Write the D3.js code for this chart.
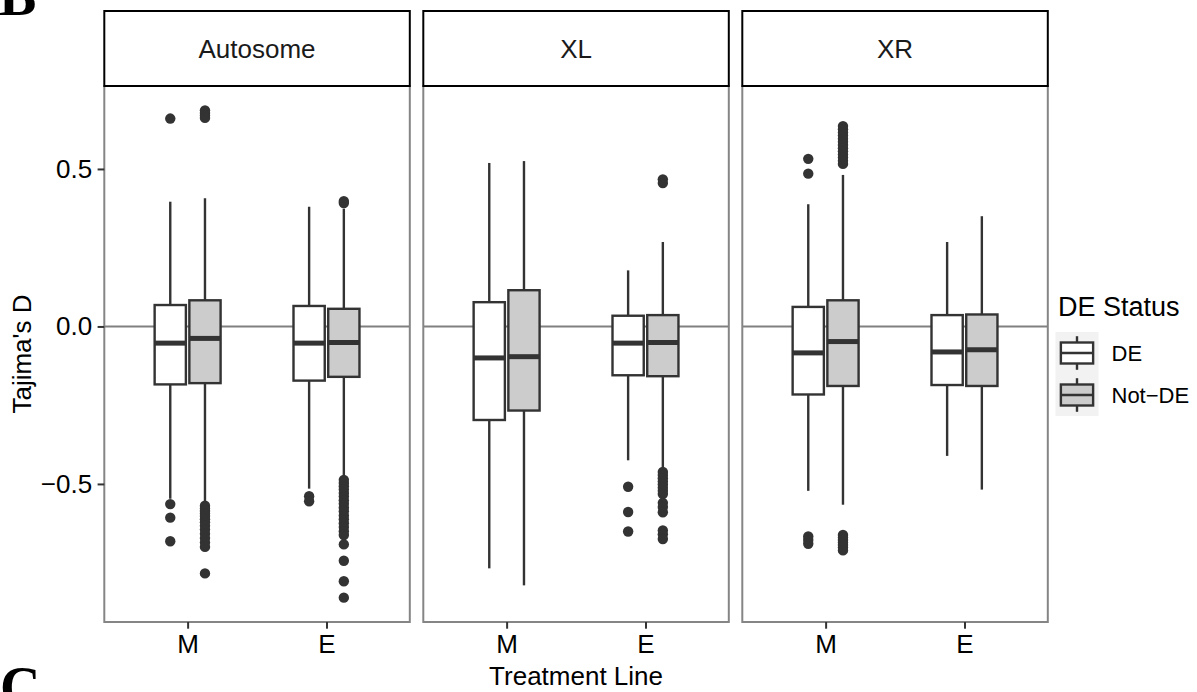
<!DOCTYPE html>
<html><head><meta charset="utf-8">
<script src="https://cdn.jsdelivr.net/npm/d3@7"></script>
<style>
body{margin:0;background:#fff}
svg{display:block}
text{font-family:"Liberation Sans",Arial,Helvetica,sans-serif}
text.fig-letter{font-family:"Liberation Serif","Times New Roman",serif;font-weight:bold}
</style>
</head><body>
<svg id="chart" width="1197" height="692"></svg>
<script>
// ---------- data ----------
const facets = ["Autosome", "XL", "XR"];
const treatmentLines = ["M", "E"];
const statuses = ["DE", "Not-DE"];
const statusLabels = ["DE", "Not\u2212DE"];
const statusFills = ["#FFFFFF", "#CCCCCC"];
const yTickValues = [-0.5, 0.0, 0.5];
const yTickLabels = ["\u22120.5", "0.0", "0.5"];

// order: for each facet, for each treatment line (M, E), for each status (DE, Not-DE)
const whiskerLow  = [-0.547, -0.558, -0.515, -0.477,  -0.768, -0.822, -0.425, -0.449,  -0.522, -0.566, -0.411, -0.518];
const q1          = [-0.184, -0.180, -0.172, -0.160,  -0.297, -0.267, -0.155, -0.158,  -0.216, -0.189, -0.186, -0.189];
const medians     = [-0.053, -0.038, -0.053, -0.051,  -0.100, -0.096, -0.053, -0.051,  -0.084, -0.048, -0.081, -0.074];
const q3          = [ 0.068,  0.083,  0.065,  0.056,   0.077,  0.115,  0.034,  0.036,   0.062,  0.083,  0.036,  0.038];
const whiskerHigh = [ 0.396,  0.407,  0.380,  0.374,   0.519,  0.525,  0.178,  0.268,   0.388,  0.481,  0.268,  0.350];
const outliers = [
  [0.660, -0.564, -0.607, -0.682],
  [0.686, 0.678, 0.670, 0.662, -0.569, -0.578, -0.586, -0.594, -0.602, -0.612, -0.622, -0.633, -0.645, -0.658, -0.672, -0.686, -0.700, -0.784],
  [-0.539, -0.555],
  [0.398, 0.392, -0.487, -0.497, -0.507, -0.518, -0.529, -0.540, -0.552, -0.563, -0.575, -0.587, -0.600, -0.612, -0.625, -0.637, -0.650, -0.662, -0.692, -0.744, -0.809, -0.861],
  [],
  [],
  [-0.509, -0.589, -0.651],
  [0.467, 0.455, -0.462, -0.472, -0.482, -0.492, -0.502, -0.512, -0.522, -0.532, -0.560, -0.573, -0.590, -0.648, -0.660, -0.675],
  [0.532, 0.485, -0.667, -0.678, -0.690],
  [0.636, 0.626, 0.616, 0.606, 0.596, 0.586, 0.576, 0.566, 0.556, 0.546, 0.536, 0.526, 0.516, -0.662, -0.670, -0.678, -0.686, -0.694, -0.702, -0.711],
  [],
  []
];

// ---------- build records ----------
const boxes = [];
facets.forEach((f, fi) => treatmentLines.forEach((l, li) => statuses.forEach((s, si) => {
  const i = fi * 4 + li * 2 + si;
  boxes.push({facet: f, line: l, status: s, si, lo: whiskerLow[i], q1: q1[i], med: medians[i],
              q3: q3[i], hi: whiskerHigh[i], out: outliers[i]});
})));

// ---------- layout ----------
const svg = d3.select("#chart");
const panelTop = 86, panelBottom = 622, stripTop = 11;
const panelLeft = 104.3, panelW = 305.5, panelGap = 13.5;
const ink = "#333333";

const allVals = boxes.flatMap(b => [b.lo, b.hi, ...b.out]);
const [vmin, vmax] = d3.extent(allVals);
const pad = (vmax - vmin) * 0.05;
const y = d3.scaleLinear().domain([vmin - pad, vmax + pad]).range([panelBottom, panelTop]);

const x = d3.scalePoint().domain(treatmentLines).range([0, panelW]).padding(0.6);
const step = x.step();
const dodge = d3.scaleBand().domain(statuses).range([-0.25 * step, 0.25 * step]);
const boxW = dodge.bandwidth() * 0.9;

svg.append("rect").attr("width", 1197).attr("height", 692).attr("fill", "#fff");

facets.forEach((f, fi) => {
  const g = svg.append("g").attr("transform", `translate(${panelLeft + fi * (panelW + panelGap)},0)`);
  g.append("rect").attr("x", 0).attr("y", panelTop).attr("width", panelW).attr("height", panelBottom - panelTop)
    .attr("fill", "#fff");
  // zero reference line
  g.append("line").attr("x1", 0).attr("x2", panelW).attr("y1", y(0)).attr("y2", y(0))
    .attr("stroke", "#808080").attr("stroke-width", 1.9);

  const fb = boxes.filter(b => b.facet === f);
  fb.forEach(b => {
    const cx = x(b.line) + dodge(b.status) + dodge.bandwidth() / 2;
    const bg = g.append("g");
    bg.selectAll("circle").data(b.out).join("circle")
      .attr("cx", cx).attr("cy", d => y(d)).attr("r", 5.2).attr("fill", ink);
    bg.append("line").attr("x1", cx).attr("x2", cx).attr("y1", y(b.hi)).attr("y2", y(b.q3))
      .attr("stroke", ink).attr("stroke-width", 2.4);
    bg.append("line").attr("x1", cx).attr("x2", cx).attr("y1", y(b.q1)).attr("y2", y(b.lo))
      .attr("stroke", ink).attr("stroke-width", 2.4);
    bg.append("rect").attr("x", cx - boxW / 2).attr("width", boxW)
      .attr("y", y(b.q3)).attr("height", y(b.q1) - y(b.q3))
      .attr("fill", statusFills[b.si]).attr("stroke", ink).attr("stroke-width", 2.4);
    bg.append("line").attr("x1", cx - boxW / 2).attr("x2", cx + boxW / 2).attr("y1", y(b.med)).attr("y2", y(b.med))
      .attr("stroke", ink).attr("stroke-width", 5);
  });

  // panel border
  g.append("rect").attr("x", 0).attr("y", panelTop).attr("width", panelW).attr("height", panelBottom - panelTop)
    .attr("fill", "none").attr("stroke", "#858585").attr("stroke-width", 2);
  // strip
  g.append("rect").attr("x", 0).attr("y", stripTop).attr("width", panelW).attr("height", panelTop - stripTop)
    .attr("fill", "#fff").attr("stroke", "#000").attr("stroke-width", 2);
  g.append("text").attr("x", panelW / 2).attr("y", (stripTop + panelTop) / 2).attr("dy", "0.35em")
    .attr("text-anchor", "middle").attr("font-size", 26).attr("fill", "#1a1a1a").text(f);

  // x axis
  const xa = g.append("g").attr("transform", `translate(0,${panelBottom})`);
  xa.call(d3.axisBottom(x).tickSize(6.7).tickPadding(6));
  xa.select(".domain").remove();
  xa.selectAll(".tick line").attr("stroke", ink).attr("stroke-width", 2);
  xa.selectAll(".tick text").attr("font-size", 26).attr("fill", "#000")
    .attr("font-family", "Liberation Sans, Arial, sans-serif");
});

// y axis
const ya = svg.append("g").attr("transform", `translate(${panelLeft},0)`);
ya.call(d3.axisLeft(y).tickValues(yTickValues).tickFormat((d, i) => yTickLabels[i]).tickSize(6.7).tickPadding(5.5));
ya.select(".domain").remove();
ya.selectAll(".tick line").attr("stroke", ink).attr("stroke-width", 2);
ya.selectAll(".tick text").attr("font-size", 26).attr("fill", "#000")
  .attr("font-family", "Liberation Sans, Arial, sans-serif");

// axis titles
const plotCenterX = panelLeft + (3 * panelW + 2 * panelGap) / 2;
svg.append("text").attr("x", plotCenterX).attr("y", 685).attr("text-anchor", "middle")
  .attr("font-size", 26).attr("fill", "#000").text("Treatment Line");
svg.append("text").attr("transform", `translate(31,${(panelTop + panelBottom) / 2}) rotate(-90)`)
  .attr("text-anchor", "middle").attr("font-size", 26).attr("fill", "#000").text("Tajima's D");

// legend
const lg = svg.append("g").attr("transform", "translate(1055.5,0)");
const keyW = 43, keyH = 42, keyTop = 332;
lg.append("text").attr("x", 2.5).attr("y", 316).attr("font-size", 27).attr("fill", "#000").text("DE Status");
statuses.forEach((s, i) => {
  const ky = keyTop + i * keyH;
  const k = lg.append("g").attr("transform", `translate(0,${ky})`);
  k.append("rect").attr("width", keyW).attr("height", keyH).attr("fill", "#F2F2F2");
  k.append("line").attr("x1", keyW / 2).attr("x2", keyW / 2).attr("y1", keyH * 0.1).attr("y2", keyH * 0.25)
    .attr("stroke", ink).attr("stroke-width", 2.4);
  k.append("line").attr("x1", keyW / 2).attr("x2", keyW / 2).attr("y1", keyH * 0.75).attr("y2", keyH * 0.9)
    .attr("stroke", ink).attr("stroke-width", 2.4);
  k.append("rect").attr("x", keyW * 0.125).attr("width", keyW * 0.75).attr("y", keyH * 0.25).attr("height", keyH * 0.5)
    .attr("fill", statusFills[i]).attr("stroke", ink).attr("stroke-width", 2.4);
  k.append("line").attr("x1", keyW * 0.125).attr("x2", keyW * 0.875).attr("y1", keyH * 0.5).attr("y2", keyH * 0.5)
    .attr("stroke", ink).attr("stroke-width", 2.4);
  lg.append("text").attr("x", keyW + 13).attr("y", ky + keyH / 2).attr("dy", "0.35em")
    .attr("font-size", 22).attr("fill", "#000").text(statusLabels[i]);
});

// figure panel letters (cropped from a multi-panel figure)
svg.append("text").attr("class", "fig-letter").attr("x", -1).attr("y", 15)
  .attr("font-size", 56).attr("fill", "#000").text("B");
svg.append("text").attr("class", "fig-letter").attr("x", 0).attr("y", 706)
  .attr("font-size", 56).attr("fill", "#000").text("C");
</script>
</body></html>
